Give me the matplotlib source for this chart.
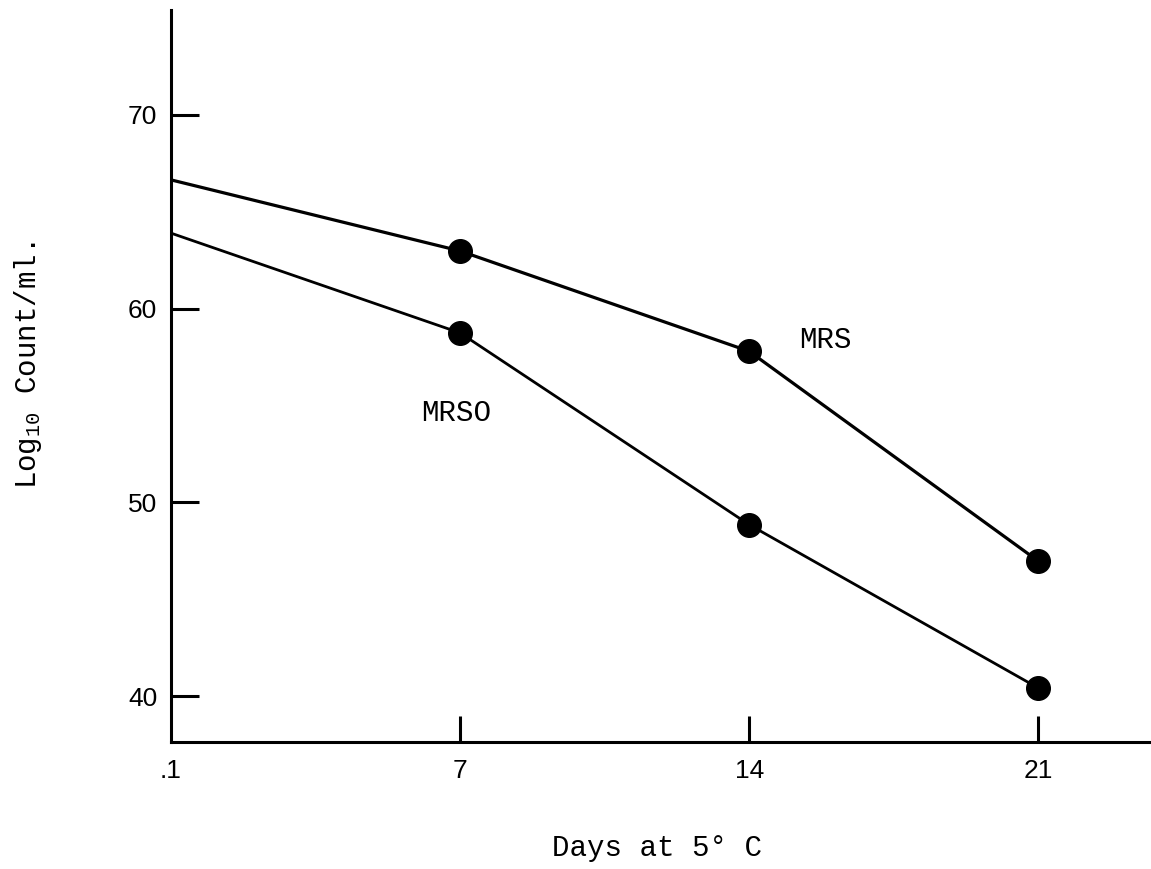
import matplotlib
matplotlib.use("Agg")
import matplotlib.pyplot as plt

# values
days = [0, 7, 14, 21]
mrs = [66.65, 62.98, 57.8, 46.97]
mrso = [63.9, 58.75, 48.85, 40.42]

x_ticks = [0, 7, 14, 21]
x_tick_labels = [".1", "7", "14", "21"]
y_ticks = [40, 50, 60, 70]
y_tick_labels = ["40", "50", "60", "70"]

mono = "Liberation Mono"
sans = "Liberation Sans"

plt.rcParams["mathtext.fontset"] = "custom"
plt.rcParams["mathtext.rm"] = mono
plt.rcParams["mathtext.it"] = mono
plt.rcParams["mathtext.default"] = "rm"

fig = plt.figure(figsize=(11.51, 8.69), dpi=100)
ax = fig.add_axes([0.1486, 0.1461, 0.8514, 0.8424])

# lines start at the axis, markers only on the sampled days
ax.plot(days, mrs, color="black", lw=2.3, solid_capstyle="butt", clip_on=False)
ax.plot(days[1:], mrs[1:], "o", color="black", ms=17, clip_on=False)
ax.plot(days, mrso, color="black", lw=2.0, solid_capstyle="butt", clip_on=False)
ax.plot(days[1:], mrso[1:], "o", color="black", ms=17, clip_on=False)

ax.text(15.2, 58.4, "MRS", fontsize=21, family=mono, va="center", ha="left")
ax.text(6.05, 54.6, "MRSO", fontsize=21, family=mono, va="center", ha="left")

ax.set_xlim(0, 23.73)
ax.set_ylim(37.63, 75.42)

ax.spines["top"].set_visible(False)
ax.spines["right"].set_visible(False)
for s in ("left", "bottom"):
    ax.spines[s].set_linewidth(2.2)

ax.set_xticks(x_ticks)
ax.set_xticklabels(x_tick_labels, fontsize=19, family=sans)
ax.set_yticks(y_ticks)
ax.set_yticklabels(y_tick_labels, fontsize=19, family=sans)
ax.tick_params(axis="x", direction="in", length=19, width=2.2, pad=12)
ax.tick_params(axis="y", direction="in", length=20, width=2.2, pad=10)
# the first x tick sits on the y axis, hide it
ax.xaxis.get_major_ticks()[0].tick1line.set_visible(False)

fig.text(0.571, 0.024, "Days at 5° C", fontsize=21, family=mono,
         ha="center", va="center")
fig.text(0.024, 0.58, r"Log$_{10}$ Count/ml.", fontsize=21, family=mono,
         ha="center", va="center", rotation=90)

fig.savefig("out.png", dpi=100)
